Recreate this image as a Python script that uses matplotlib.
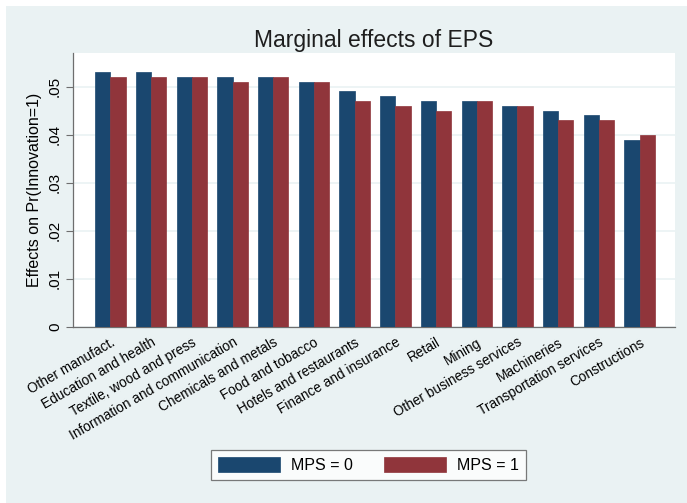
import matplotlib
matplotlib.use("Agg")
import matplotlib.pyplot as plt
import numpy as np
from matplotlib.patches import Rectangle

plt.rcParams['font.family'] = ['Liberation Sans', 'DejaVu Sans']

sectors = [
    "Other manufact.", "Education and health", "Textile, wood and press",
    "Information and communication", "Chemicals and metals", "Food and tobacco",
    "Hotels and restaurants", "Finance and insurance", "Retail", "Mining",
    "Other business services", "Machineries", "Transportation services",
    "Constructions",
]
mps0 = [0.053, 0.053, 0.052, 0.052, 0.052, 0.051, 0.049, 0.048, 0.047, 0.047,
        0.046, 0.045, 0.044, 0.039]
mps1 = [0.052, 0.052, 0.052, 0.051, 0.052, 0.051, 0.047, 0.046, 0.045, 0.047,
        0.046, 0.043, 0.043, 0.040]
yticks = [0, 0.01, 0.02, 0.03, 0.04, 0.05]
ytick_labels = ["0", ".01", ".02", ".03", ".04", ".05"]
series_labels = ["MPS = 0", "MPS = 1"]

NAVY = "#1a476f"
MAROON = "#90353b"
BG = "#eaf2f3"

W, H = 687, 503
fig = plt.figure(figsize=(W / 100, H / 100), dpi=100, facecolor="white")
# graph region background (thin white margin on top and left)
fig.patches.append(Rectangle((6 / W, 0), 1 - 6 / W, 1 - 6 / H,
                             transform=fig.transFigure, facecolor=BG,
                             edgecolor="none", zorder=-10))

ax = fig.add_axes([73 / W, 1 - 327 / H, (675 - 73) / W, (327 - 53) / H])
ax.set_facecolor("white")

x = np.arange(len(sectors))
bw = 0.373
b0 = ax.bar(x - bw / 2, mps0, width=bw, color=NAVY, edgecolor=NAVY,
            linewidth=0.5, zorder=3, label=series_labels[0])
b1 = ax.bar(x + bw / 2, mps1, width=bw, color=MAROON, edgecolor=MAROON,
            linewidth=0.5, zorder=3, label=series_labels[1])

ax.set_xlim(-0.92, 13.87)
ax.set_ylim(0, 0.057)
ax.set_yticks(yticks)
ax.set_yticklabels(ytick_labels, rotation=90, va="center", fontsize=11)
ax.yaxis.grid(True, color=BG, linewidth=1.2, zorder=0)
ax.set_axisbelow(True)

ax.set_xticks(x)
ax.set_xticklabels(sectors, rotation=30, ha="right", rotation_mode="anchor",
                   fontsize=9.8)
ax.tick_params(axis="x", length=0, pad=6)
ax.tick_params(axis="y", length=5, width=0.8, color="#6e6e6e", pad=3)

for side in ("top", "right"):
    ax.spines[side].set_visible(False)
for side in ("left", "bottom"):
    ax.spines[side].set_color("#6e6e6e")
    ax.spines[side].set_linewidth(0.9)

ax.set_ylabel("Effects on Pr(Innovation=1)", fontsize=11.5, labelpad=4)
fig.text(374 / W, 1 - 40 / H, "Marginal effects of EPS", ha="center",
         va="center", fontsize=16.5, color="#1e1e1e")

leg = fig.legend(handles=[b0, b1], labels=series_labels, loc="center",
                 bbox_to_anchor=(368.5 / W, 1 - 465 / H), ncol=2,
                 fontsize=11.5, frameon=True, fancybox=False,
                 handlelength=3.9, handleheight=1.1, columnspacing=1.9,
                 handletextpad=0.7, borderpad=0.45, borderaxespad=0)
leg.get_frame().set_edgecolor("#5a5a5a")
leg.get_frame().set_linewidth(0.9)
leg.get_frame().set_facecolor("white")

fig.savefig("out.png", dpi=100, facecolor=fig.get_facecolor())
